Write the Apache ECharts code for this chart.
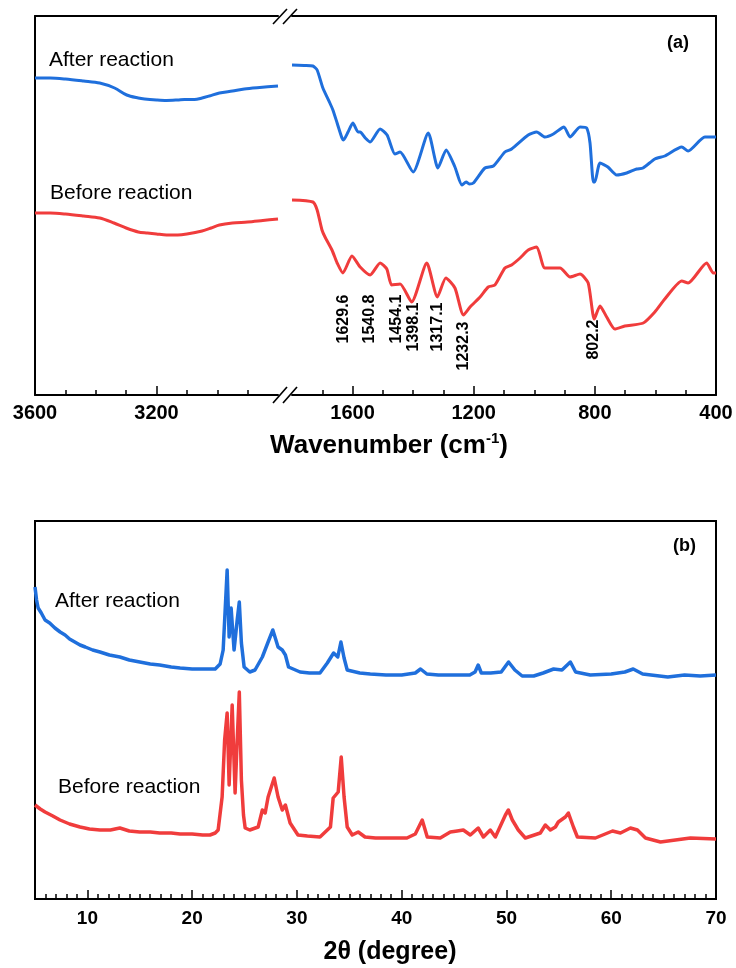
<!DOCTYPE html>
<html><head><meta charset="utf-8">
<script src="https://cdn.jsdelivr.net/npm/echarts@6/dist/echarts.min.js"></script>
<style>html,body{margin:0;padding:0;background:#fff}#c{width:736px;height:968px}</style>
</head><body><div id="c"></div>
<script>
// ---------- FTIR data: [wavenumber (cm-1), transmittance (a.u.)] ----------
const ftirAfterHigh = [[3600,317],[3550,317],[3500,316],[3440,314],[3387,312],[3338,307],[3298,300],[3260,297],[3239,296],[3200,295],[3167,294.5],[3130,295],[3108,295.5],[3075,295.5],[3050,297],[3026,299],[2993,302],[2950,304],[2911,306],[2860,307.5],[2800,309]];
const ftirBeforeHigh = [[3600,182],[3550,182],[3500,181],[3440,179],[3387,177],[3340,172],[3300,167],[3260,163],[3230,162],[3200,161],[3167,160],[3130,160],[3100,161],[3050,164],[3020,167],[2993,170],[2950,172],[2900,173],[2850,174.5],[2800,176]];
const ftirAfterLow = [[1800,330],[1760,329.5],[1731,329],[1717,325],[1698,307],[1675,292],[1665,285],[1651,272],[1635,257],[1630,255],[1615,263],[1599,272],[1582,263],[1575,263],[1558,257],[1542,253],[1509,266],[1486,260],[1460,241],[1443,243],[1400,223],[1350,262],[1318,227],[1291,245],[1262,228],[1239,210],[1225,213],[1215,211],[1201,212],[1163,227],[1135,229],[1097,243],[1075,246],[1020,260],[992,263],[965,258],[937,261],[902,268],[882,258],[849,268],[827,267],[816,252],[805,213],[800,213],[783,232],[757,228],[728,220],[695,222],[662,226],[641,227],[602,236],[569,239],[513,248],[492,244],[437,258],[400,258]];
const ftirBeforeLow = [[1800,195],[1731,193],[1717,185],[1701,165],[1691,158],[1668,145],[1651,132],[1632,122],[1602,139],[1575,128],[1542,120],[1509,132],[1487,126],[1471,110],[1443,111],[1405,93],[1355,132],[1320,98],[1292,117],[1262,107],[1234,80],[1212,88],[1179,98],[1152,108],[1130,110],[1097,127],[1075,130],[1047,137],[1020,145],[992,148],[965,127],[915,127],[882,118],[849,121],[822,112],[802,76],[783,89],[761,78],[734,66],[701,69],[640,72],[602,83],[569,96],[513,114],[492,112],[431,132],[409,122],[400,122]];
const peakWavenumbers = [1629.6, 1540.8, 1454.1, 1398.1, 1317.1, 1232.3, 802.2];
const peakLabelTop = [100, 100, 100, 92, 92, 73, 75];

// FTIR axis ticks
const ftirHighLabels = [3600, 3200];
const ftirHighMajor = [3600, 3200];
const ftirHighMinor = [3500, 3400, 3300, 3100, 3000, 2900];
const ftirLowLabels = [1600, 1200, 800, 400];
const ftirLowMajor = [1600, 1200, 800, 400];
const ftirLowMinor = [1700, 1500, 1400, 1300, 1100, 1000, 900, 700, 600, 500];

// ---------- XRD data: [2theta (deg), intensity (a.u.)] ----------
const xrdAfter = [[5.0,312],[5.15,299],[5.3,291],[5.6,286],[5.96,279],[6.4,276],[6.9,271],[7.4,267],[7.87,264],[8.3,260],[8.8,257],[9.3,254],[9.8,252],[10.5,249],[11.2,247],[12.1,244],[13.1,242],[14.0,239],[15.0,237],[16.0,235],[16.9,234],[18.0,232],[18.85,231],[20.0,230],[20.76,230],[21.5,230],[22.2,230],[22.67,235],[22.96,249],[23.15,289],[23.34,329],[23.53,262],[23.72,291],[24.0,249],[24.3,279],[24.5,297],[24.7,256],[24.96,232],[25.5,227],[26.0,229],[26.7,242],[27.25,257],[27.7,269],[28.2,252],[28.6,249],[28.9,244],[29.2,232],[30.3,227],[31.2,226],[32.2,226],[32.9,236],[33.5,246],[33.9,242],[34.2,257],[34.5,241],[34.8,229],[36.0,226],[37.0,225],[38.5,224],[40.0,224],[41.3,226],[41.8,230],[42.4,225],[43.5,224],[45.0,224],[46.5,224],[47.0,227],[47.3,234],[47.6,226],[48.5,226],[49.5,227],[50.2,237],[50.8,229],[51.5,223],[52.6,223],[53.5,226],[54.5,230],[55.3,229],[56.1,237],[56.6,227],[58.0,224],[60.0,225],[61.3,227],[62.1,230],[63.0,225],[65.4,222],[67.0,224],[68.5,223],[70.0,224]];
const xrdBefore = [[5.0,94],[5.5,90],[5.96,87],[6.7,83],[7.39,79],[8.3,75],[9.3,72],[10.2,70],[11.2,69],[12.2,69],[13.1,71],[14.0,68],[15.0,67],[16.0,67],[16.9,66],[18.0,66],[18.85,65],[20.0,65],[21.0,64],[21.7,64],[22.2,66],[22.48,69],[22.86,102],[23.1,159],[23.34,186],[23.53,114],[23.82,194],[24.1,106],[24.3,159],[24.5,207],[24.7,119],[24.9,84],[25.06,71],[25.5,69],[26.3,72],[26.7,89],[26.97,86],[27.25,102],[27.83,121],[28.2,102],[28.6,89],[28.9,94],[29.35,76],[30.1,64],[31.0,63],[32.2,62],[33.2,72],[33.46,101],[33.94,107],[34.23,142],[34.5,102],[34.8,72],[35.28,64],[35.85,67],[36.5,62],[37.5,61],[39.0,61],[40.5,61],[41.3,65],[41.96,79],[42.44,62],[43.68,61],[44.64,67],[45.3,68],[45.88,69],[46.55,64],[47.3,71],[47.8,62],[48.46,69],[48.94,62],[49.9,84],[50.18,89],[50.56,79],[51.13,69],[51.8,61],[53.23,66],[53.71,74],[54.19,69],[54.67,72],[54.95,77],[55.62,82],[55.91,86],[56.39,72],[56.77,62],[58.49,61],[60.12,68],[60.88,66],[61.83,71],[62.5,69],[63.27,61],[64.7,57],[67.56,61],[70.0,60]];
const xrdLabels = [10, 20, 30, 40, 50, 60, 70];
const xrdMajor = [10, 20, 30, 40, 50, 60, 70];
const xrdMinor = [6,7,8,9,11,12,13,14,15,16,17,18,19,21,22,23,24,25,26,27,28,29,31,32,33,34,35,36,37,38,39,41,42,43,44,45,46,47,48,49,51,52,53,54,55,56,57,58,59,61,62,63,64,65,66,67,68,69];

// ---------- styles ----------
const F = '"Liberation Sans", Arial, Helvetica, sans-serif';
const BLUE = '#1f6fdc';
const RED = '#f03c3c';
const BLACK = '#000';

function mainX(gridIndex, min, max, inverse, major, labels, fs, margin) {
  return {
    type: 'value', gridIndex, min, max, inverse, position: 'bottom',
    axisLine: { show: true, onZero: false, lineStyle: { color: BLACK, width: 2 } },
    axisTick: { show: true, inside: true, length: 9, customValues: major, lineStyle: { color: BLACK, width: 1.5 } },
    axisLabel: { show: true, customValues: labels, margin, color: BLACK, fontSize: fs, fontWeight: 'bold', fontFamily: F, formatter: v => String(v) },
    splitLine: { show: false }
  };
}
function minorX(gridIndex, min, max, inverse, minor) {
  return {
    type: 'value', gridIndex, min, max, inverse, position: 'bottom',
    axisLine: { show: false },
    axisTick: { show: true, inside: true, length: 5, customValues: minor, lineStyle: { color: BLACK, width: 1.5 } },
    axisLabel: { show: false },
    splitLine: { show: false }
  };
}
function topX(gridIndex, min, max, inverse) {
  return {
    type: 'value', gridIndex, min, max, inverse, position: 'top',
    axisLine: { show: true, onZero: false, lineStyle: { color: BLACK, width: 2 } },
    axisTick: { show: false }, axisLabel: { show: false }, splitLine: { show: false }
  };
}
function yAx(gridIndex, min, max, position, showLine) {
  return {
    type: 'value', gridIndex, min, max, position,
    axisLine: { show: showLine, onZero: false, lineStyle: { color: BLACK, width: 2 } },
    axisTick: { show: false }, axisLabel: { show: false }, splitLine: { show: false }
  };
}
function line(data, xi, yi, color, width, smooth) {
  return {
    type: 'line', data, xAxisIndex: xi, yAxisIndex: yi, showSymbol: false, symbol: 'none',
    smooth, lineStyle: { color, width, join: 'round' }, silent: true, animation: false, z: 3
  };
}
function txt(x, y, text, size, bold, align) {
  return { type: 'text', x, y, z: 10, style: { text, fill: BLACK, font: (bold ? 'bold ' : '') + size + 'px ' + F, align: align || 'left', verticalAlign: 'middle' } };
}
function seg(x1, y1, x2, y2) {
  return { type: 'line', z: 10, shape: { x1, y1, x2, y2 }, style: { stroke: BLACK, lineWidth: 1.6 } };
}

const peakData = peakWavenumbers.map((w, i) => [w, peakLabelTop[i], w.toFixed(1)]);

const option = {
  backgroundColor: '#fff',
  animation: false,
  grid: [
    { left: 35, top: 16, width: 243, height: 379 },
    { left: 292, top: 16, width: 424, height: 379 },
    { left: 35, top: 521, width: 681, height: 378, show: true, borderColor: BLACK, borderWidth: 2, backgroundColor: 'transparent' }
  ],
  xAxis: [
    mainX(0, 2800, 3600, true, ftirHighMajor, ftirHighLabels, 20, 8),
    minorX(0, 2800, 3600, true, ftirHighMinor),
    topX(0, 2800, 3600, true),
    mainX(1, 400, 1800, true, ftirLowMajor, ftirLowLabels, 20, 8),
    minorX(1, 400, 1800, true, ftirLowMinor),
    topX(1, 400, 1800, true),
    mainX(2, 5, 70, false, xrdMajor, xrdLabels, 19, 10),
    minorX(2, 5, 70, false, xrdMinor)
  ],
  yAxis: [
    yAx(0, 0, 379, 'left', true),
    yAx(1, 0, 379, 'right', true),
    yAx(2, 0, 378, 'left', false)
  ],
  series: [
    line(ftirAfterHigh, 0, 0, BLUE, 3, 0.3),
    line(ftirBeforeHigh, 0, 0, RED, 3, 0.3),
    line(ftirAfterLow, 3, 1, BLUE, 3, 0.2),
    line(ftirBeforeLow, 3, 1, RED, 3, 0.2),
    {
      type: 'scatter', xAxisIndex: 3, yAxisIndex: 1, data: peakData, symbolSize: 1,
      itemStyle: { color: 'rgba(0,0,0,0)' }, silent: true, z: 5,
      label: {
        show: true, position: [0, 0], rotate: 90, align: 'right', verticalAlign: 'middle',
        formatter: p => p.value[2], color: '#000', opacity: 1, fontSize: 16, fontWeight: 'bold', fontFamily: F
      }
    },
    line(xrdAfter, 6, 2, BLUE, 3.5, false),
    line(xrdBefore, 6, 2, RED, 3.5, false)
  ],
  graphic: [
    txt(49, 60, 'After reaction', 21, false),
    txt(50, 193, 'Before reaction', 21, false),
    txt(667, 43, '(a)', 18, true),
    txt(55, 601, 'After reaction', 21, false),
    txt(58, 787, 'Before reaction', 21, false),
    txt(673, 546, '(b)', 18, true),
    {
      type: 'text', x: 389, y: 446, z: 10,
      style: {
        text: '{a|Wavenumber (cm}{b|-1}{a|)}', align: 'center', verticalAlign: 'middle', fill: BLACK,
        rich: {
          a: { fontSize: 26, fontWeight: 'bold', fontFamily: F, lineHeight: 30, fill: BLACK },
          b: { fontSize: 15, fontWeight: 'bold', fontFamily: F, lineHeight: 16, verticalAlign: 'top', fill: BLACK }
        }
      }
    },
    txt(390, 952, '2θ (degree)', 25, true, 'center'),
    seg(273, 24, 287, 9), seg(283, 24, 297, 9),
    seg(273, 403, 287, 387), seg(283, 403, 297, 387)
  ]
};

const chart = echarts.init(document.getElementById('c'), null, { renderer: 'canvas' });
chart.setOption(option);
</script>
</body></html>
